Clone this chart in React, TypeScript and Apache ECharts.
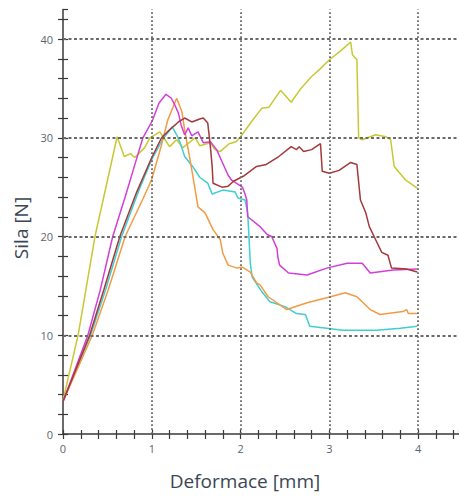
import React, { useEffect, useRef } from "react";
import * as echarts from "echarts";

// Deformace [mm] vs Sila [N]
const yellowData: number[][] = [
  [0, 3.4], [0.17, 10], [0.36, 20], [0.61, 30.1], [0.69, 28.1], [0.76, 28.4], [0.81, 28.0],
  [0.92, 29.0], [0.98, 30.0], [1.09, 30.6], [1.15, 29.8], [1.2, 29.1], [1.28, 29.8],
  [1.35, 29.0], [1.49, 30.0], [1.54, 29.2], [1.66, 29.5], [1.71, 28.8], [1.77, 28.6],
  [1.87, 29.4], [1.95, 29.6], [2.0, 30.1], [2.12, 31.6], [2.24, 33.0], [2.32, 33.1],
  [2.45, 34.8], [2.57, 33.6], [2.68, 35.0], [2.8, 36.2], [2.9, 37.0], [3.0, 37.9],
  [3.14, 38.9], [3.24, 39.7], [3.26, 38.4], [3.31, 37.9], [3.33, 30.0], [3.37, 29.8],
  [3.52, 30.3], [3.64, 30.1], [3.69, 29.8], [3.73, 27.1], [3.86, 25.7], [3.99, 24.9],
];

const magentaData: number[][] = [
  [0, 3.3], [0.28, 10], [0.42, 14.6], [0.56, 20], [0.7, 24], [0.8, 27], [0.9, 30],
  [1.01, 31.8], [1.08, 33.5], [1.16, 34.4], [1.22, 34.0], [1.26, 33.3], [1.3, 32.5],
  [1.33, 31.3], [1.37, 30.3], [1.41, 31.0], [1.45, 30.2], [1.52, 30.6], [1.58, 29.5],
  [1.66, 29.6], [1.73, 28.8], [1.79, 27.6], [1.86, 26.2], [1.9, 25.7], [2.02, 25.0],
  [2.05, 24.3], [2.07, 23.7], [2.08, 22.0], [2.22, 21.0], [2.3, 20.2], [2.35, 20.0],
  [2.41, 18.8], [2.42, 17.9], [2.44, 17.1], [2.54, 16.3], [2.75, 16.1], [2.97, 16.8],
  [3.2, 17.3], [3.37, 17.3], [3.46, 16.3], [3.72, 16.6], [3.99, 16.7],
];

const orangeData: number[][] = [
  [0, 3.3], [0.33, 10], [0.51, 14.6], [0.7, 20], [0.9, 23.8], [1.0, 25.8], [1.11, 29.3],
  [1.18, 31.8], [1.28, 34.0], [1.34, 32.6], [1.37, 30.8], [1.43, 27.8], [1.48, 25.2],
  [1.52, 23.0], [1.6, 22.4], [1.69, 20.7], [1.77, 19.7], [1.8, 18.3], [1.86, 17.1],
  [1.96, 16.8], [2.02, 16.9], [2.11, 16.4], [2.18, 15.3], [2.22, 15.1], [2.31, 13.9],
  [2.52, 12.6], [2.75, 13.3], [2.97, 13.8], [3.18, 14.3], [3.31, 13.9], [3.46, 12.6],
  [3.57, 12.1], [3.83, 12.4], [3.87, 12.6], [3.89, 12.2], [3.99, 12.2],
];

const brownData: number[][] = [
  [0, 3.3], [0.3, 10], [0.46, 14.6], [0.64, 20], [0.83, 24.5], [1.0, 28], [1.11, 30.0],
  [1.2, 30.8], [1.3, 31.6], [1.37, 32.0], [1.45, 31.6], [1.54, 31.9], [1.58, 32.0],
  [1.63, 31.5], [1.66, 29.1], [1.68, 27.1], [1.69, 25.4], [1.79, 25.0], [1.86, 25.1],
  [1.92, 25.6], [2.03, 26.1], [2.18, 27.1], [2.29, 27.3], [2.43, 28.1], [2.57, 29.1],
  [2.63, 28.8], [2.66, 29.1], [2.71, 28.6], [2.8, 28.8], [2.9, 29.4], [2.92, 26.6],
  [3.0, 26.4], [3.11, 26.7], [3.24, 27.5], [3.31, 27.3], [3.35, 23.7], [3.41, 22.4],
  [3.45, 21.0], [3.52, 19.7], [3.59, 18.4], [3.66, 18.1], [3.7, 16.8], [3.87, 16.7],
  [3.99, 16.4],
];

const cyanData: number[][] = [
  [0, 3.3], [0.31, 10], [0.48, 14.6], [0.66, 20], [0.86, 24.8], [1.0, 27.8], [1.12, 29.8],
  [1.23, 31.1], [1.28, 30.3], [1.32, 29.5], [1.37, 28.1], [1.46, 27.1], [1.54, 26.0],
  [1.63, 25.4], [1.68, 24.3], [1.8, 24.7], [1.94, 24.5], [1.97, 23.9], [2.05, 23.7],
  [2.08, 22.4], [2.11, 17.3], [2.13, 15.9], [2.24, 14.4], [2.33, 13.4], [2.5, 12.9],
  [2.63, 12.2], [2.73, 12.1], [2.78, 10.9], [2.97, 10.7], [3.15, 10.5], [3.53, 10.5],
  [3.8, 10.7], [3.99, 10.9],
];

const xGridValues = [1, 2, 3, 4];
const yGridValues = [10, 20, 30, 40];

const X_MAX = 4.46;
const Y_MAX = 43;

const FONT = "'Open Sans', 'Noto Sans', sans-serif";

export default function App() {
  const ref = useRef<HTMLDivElement>(null);

  useEffect(() => {
    if (!ref.current) return;
    const chart = echarts.init(ref.current, undefined, { renderer: "svg" });

    const isInt = (v: number) => Math.abs(v - Math.round(v)) < 1e-6;
    const axisColor = "#3a3a3a";
    const gridColor = "#6a6a6a";

    const lineSeries = (name: string, data: number[][], color: string) => ({
      name,
      type: "line",
      data,
      showSymbol: false,
      symbol: "none",
      lineStyle: { color, width: 1.5 },
      xAxisIndex: 0,
      yAxisIndex: 0,
      z: 3,
    });

    chart.setOption({
      animation: false,
      backgroundColor: "#ffffff",
      grid: { left: 63, right: 0, top: 9.4, bottom: 66 },
      xAxis: [
        {
          type: "value",
          min: 0,
          max: X_MAX,
          interval: 0.2,
          axisLine: { show: true, onZero: false, lineStyle: { color: axisColor, width: 1.5 } },
          axisTick: { show: true, length: 5, lineStyle: { color: axisColor, width: 1.2 } },
          axisLabel: {
            color: "#5b6570",
            fontSize: 11,
            fontFamily: FONT,
            margin: 9,
            showMaxLabel: false,
            formatter: (v: number) => (isInt(v) && v <= 4 ? String(Math.round(v)) : ""),
          },
          splitLine: { show: false },
        },
        {
          type: "value",
          position: "bottom",
          min: 0,
          max: X_MAX,
          interval: 0.2,
          axisLine: { show: false, onZero: false },
          axisTick: { show: true, inside: true, length: 4, lineStyle: { color: axisColor, width: 1.2 } },
          axisLabel: { show: false },
          splitLine: { show: false },
        },
      ],
      yAxis: [
        {
          type: "value",
          min: 0,
          max: Y_MAX,
          interval: 2,
          axisLine: { show: true, onZero: false, lineStyle: { color: axisColor, width: 1.5 } },
          axisTick: { show: true, length: 5, lineStyle: { color: axisColor, width: 1.2 } },
          axisLabel: {
            color: "#5b6570",
            fontSize: 11,
            fontFamily: FONT,
            margin: 10,
            showMaxLabel: false,
            formatter: (v: number) => (isInt(v / 10) && v <= 40 ? String(Math.round(v)) : ""),
          },
          splitLine: { show: false },
        },
        {
          type: "value",
          position: "left",
          min: 0,
          max: Y_MAX,
          interval: 2,
          axisLine: { show: false, onZero: false },
          axisTick: { show: true, inside: true, length: 5, lineStyle: { color: axisColor, width: 1.2 } },
          axisLabel: { show: false },
          splitLine: { show: false },
        },
      ],
      series: [
        {
          type: "line",
          data: [],
          silent: true,
          z: 1,
          markLine: {
            silent: true,
            symbol: "none",
            label: { show: false },
            animation: false,
            data: [
              ...xGridValues.map((v) => ({
                xAxis: v,
                lineStyle: { color: gridColor, width: 1.8, type: [1.8, 2.2] },
              })),
              ...yGridValues.map((v) => ({
                yAxis: v,
                lineStyle: { color: gridColor, width: 1.8, type: [3, 2.5] },
              })),
            ],
          },
        },
        lineSeries("yellow", yellowData, "#c8c834"),
        lineSeries("cyan", cyanData, "#3fcfd2"),
        lineSeries("orange", orangeData, "#f29b45"),
        lineSeries("magenta", magentaData, "#d23fd8"),
        lineSeries("brown", brownData, "#a3393a"),
      ],
      graphic: [
        {
          type: "text",
          x: 245,
          y: 481,
          style: {
            text: "Deformace [mm]",
            fill: "#3b4654",
            font: `19px ${FONT}`,
            textAlign: "center",
            textVerticalAlign: "middle",
          },
        },
        {
          type: "text",
          x: 21,
          y: 228,
          rotation: Math.PI / 2,
          style: {
            text: "Sila [N]",
            fill: "#3b4654",
            font: `19px ${FONT}`,
            textAlign: "center",
            textVerticalAlign: "middle",
          },
        },
      ],
    });

    return () => chart.dispose();
  }, []);

  return (
    <div
      ref={ref}
      style={{ position: "fixed", left: 0, top: 0, width: 459, height: 500, background: "#fff" }}
    />
  );
}
